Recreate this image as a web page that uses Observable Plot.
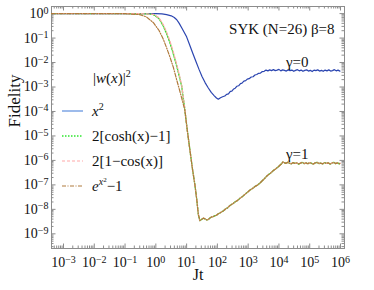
<!DOCTYPE html>
<html><head><meta charset="utf-8">
<script src="https://cdn.jsdelivr.net/npm/d3@7"></script>
<script src="https://cdn.jsdelivr.net/npm/@observablehq/plot@0.6"></script>
<style>
html,body{margin:0;padding:0;background:#fff;}
#chart{position:relative;width:374px;height:290px;}
</style>
</head><body><div id="chart"></div>
<script>
// ---- data (log10 values) ----
const gamma0LogJt = [-3.4,-2,-1,-0.3,0,0.2,0.35,0.5,0.6,0.68,0.76,0.84,0.92,1.0,1.1,1.2,1.3,1.4,1.5,1.6,1.7,1.8,1.9,1.97,2.03,2.1,2.17,2.24,2.3,2.36,2.42,2.47,2.53,2.58,2.63,2.69,2.75,2.8,2.86,2.92,2.97,3.03,3.1,3.16,3.22,3.28,3.34,3.4,3.46,3.52,3.58,3.64,3.7,3.76,3.82,3.88,3.94,4.0,4.06,4.12,4.18,4.24,4.3,4.36,4.42,4.48,4.54,4.6,4.66,4.72,4.78,4.84,4.9,4.96,5.02,5.08,5.14,5.2,5.26,5.32,5.38,5.44,5.5,5.56,5.62,5.68,5.74,5.8,5.86,5.92,5.98];
const gamma0LogF = [0,0,0,-0.002,-0.005,-0.015,-0.04,-0.09,-0.16,-0.25,-0.4,-0.58,-0.76,-0.95,-1.28,-1.62,-1.95,-2.27,-2.57,-2.82,-3.03,-3.22,-3.36,-3.45,-3.5,-3.44,-3.4,-3.37,-3.3,-3.28,-3.18,-3.17,-3.08,-3.05,-2.97,-2.95,-2.86,-2.84,-2.76,-2.74,-2.68,-2.66,-2.59,-2.58,-2.51,-2.49,-2.44,-2.43,-2.37,-2.36,-2.31,-2.34,-2.3,-2.33,-2.29,-2.33,-2.31,-2.28,-2.34,-2.3,-2.32,-2.35,-2.3,-2.33,-2.31,-2.36,-2.32,-2.29,-2.34,-2.31,-2.36,-2.32,-2.3,-2.35,-2.32,-2.37,-2.31,-2.33,-2.3,-2.35,-2.32,-2.36,-2.31,-2.34,-2.3,-2.35,-2.33,-2.29,-2.34,-2.31,-2.35];

// gamma = 1: early part differs between the four w(x) choices
const gamma1HeadLogJt = [-3.4,-2,-1,-0.52,-0.3,-0.08,0.1,0.24,0.35,0.46,0.57,0.68,0.76,0.84,0.94];
const coshHeadLogF = [0,0,-0.001,-0.005,-0.012,-0.04,-0.2,-0.5,-0.82,-1.2,-1.65,-2.15,-2.55,-2.97,-3.9];
const cosHeadLogF  = [0,0,-0.001,-0.004,-0.01,-0.03,-0.17,-0.45,-0.76,-1.13,-1.58,-2.08,-2.49,-2.92,-3.86];
const expHeadLogF  = [0,0,-0.004,-0.04,-0.14,-0.37,-0.68,-1.04,-1.4,-1.78,-2.2,-2.72,-3.08,-3.45,-3.93];
// shared later part
const gamma1TailLogJt = [1.02,1.11,1.19,1.27,1.33,1.38,1.43,1.48,1.54,1.6,1.65,1.7,1.76,1.81,1.86,1.92,1.97,2.03,2.08,2.14,2.2,2.27,2.34,2.41,2.49,2.57,2.65,2.73,2.81,2.9,2.98,3.06,3.14,3.22,3.3,3.38,3.45,3.52,3.59,3.66,3.72,3.77,3.82,3.87,3.93,3.98,4.04,4.09,4.13,4.17,4.22,4.28,4.34,4.4,4.46,4.52,4.58,4.64,4.7,4.76,4.82,4.88,4.94,5.0,5.06,5.12,5.18,5.24,5.3,5.36,5.42,5.48,5.54,5.6,5.66,5.72,5.78,5.84,5.9,5.96,5.99];
const gamma1TailLogF = [-4.75,-5.6,-6.35,-7.0,-7.6,-8.2,-8.46,-8.42,-8.36,-8.39,-8.43,-8.42,-8.35,-8.31,-8.3,-8.26,-8.24,-8.18,-8.15,-8.1,-8.06,-7.98,-7.93,-7.84,-7.78,-7.7,-7.64,-7.55,-7.48,-7.38,-7.3,-7.21,-7.15,-7.07,-7.01,-6.93,-6.84,-6.76,-6.66,-6.58,-6.53,-6.47,-6.41,-6.37,-6.31,-6.26,-6.19,-6.13,-6.06,-6.09,-6.12,-6.08,-6.11,-6.14,-6.09,-6.12,-6.1,-6.15,-6.11,-6.08,-6.13,-6.1,-6.14,-6.09,-6.12,-6.15,-6.1,-6.08,-6.13,-6.11,-6.14,-6.09,-6.12,-6.1,-6.15,-6.11,-6.08,-6.13,-6.1,-6.14,-6.11];

const xTickExponents = [-3,-2,-1,0,1,2,3,4,5,6];
const yTickExponents = [-9,-8,-7,-6,-5,-4,-3,-2,-1,0];
const legendLabels = ["x2","cosh","cos","exp"];

// ---- build ----
const toSeries = (lt, lf) => lt.map((t, i) => ({t: 10 ** t, f: 10 ** lf[i]}));
const gamma0 = toSeries(gamma0LogJt, gamma0LogF);
const t1 = gamma1HeadLogJt.concat(gamma1TailLogJt);
const sCosh = toSeries(t1, coshHeadLogF.concat(gamma1TailLogF));
const sCos = toSeries(t1, cosHeadLogF.concat(gamma1TailLogF));
const sExp = toSeries(t1, expHeadLogF.concat(gamma1TailLogF));

const W = 374, H = 290, mL = 51, mR = 30, mT = 6, mB = 42;
const PW = W - mL - mR, PH = H - mT - mB;
const xDom = [10 ** -3.39, 10 ** 6.13], yDom = [10 ** -9.6, 10 ** 0.29];
const majorX = xTickExponents.map(e => 10 ** e);
const majorY = yTickExponents.map(e => 10 ** e);
const minorX = [], minorY = [];
for (let k = -4; k <= 6; k++) for (let m = 2; m <= 9; m++) { const v = m * 10 ** k; if (v > xDom[0] && v < xDom[1]) minorX.push(v); }
for (let k = -10; k <= 0; k++) for (let m = 2; m <= 9; m++) { const v = m * 10 ** k; if (v > yDom[0] && v < yDom[1]) minorY.push(v); }

const serif = "'Liberation Serif','Times New Roman','DejaVu Serif',serif";
const frameCol = "#8c8c8c";
const fmt = d => "10^" + Math.round(Math.log10(d));

const svg = Plot.plot({
  width: W, height: H,
  marginLeft: mL, marginRight: mR, marginTop: mT, marginBottom: mB,
  style: {fontFamily: serif, fontSize: "14px", background: "#fff", color: "#111", overflow: "visible"},
  x: {type: "log", domain: xDom},
  y: {type: "log", domain: yDom},
  marks: [
    Plot.ruleX(majorX, {insetTop: PH - 4.5, stroke: frameCol}),
    Plot.ruleX(majorX, {insetBottom: PH - 4.5, stroke: frameCol}),
    Plot.ruleX(minorX, {insetTop: PH - 2.5, stroke: frameCol}),
    Plot.ruleX(minorX, {insetBottom: PH - 2.5, stroke: frameCol}),
    Plot.ruleY(majorY, {insetRight: PW - 4.5, stroke: frameCol}),
    Plot.ruleY(majorY, {insetLeft: PW - 4.5, stroke: frameCol}),
    Plot.ruleY(minorY, {insetRight: PW - 2.5, stroke: frameCol}),
    Plot.ruleY(minorY, {insetLeft: PW - 2.5, stroke: frameCol}),
    Plot.frame({stroke: frameCol}),
    Plot.axisX({ticks: majorX, tickSize: 0, tickPadding: 9, tickFormat: fmt, label: null, fontSize: 14}),
    Plot.axisY({ticks: majorY, tickSize: 0, tickPadding: 3, tickFormat: fmt, label: null, fontSize: 14}),
    Plot.line(gamma0, {x: "t", y: "f", stroke: "#2b45b0", strokeWidth: 1.2, clip: true}),
    Plot.line(sCosh, {x: "t", y: "f", stroke: "#2ee62e", strokeWidth: 1.4, strokeDasharray: "1.5,1.5", clip: true}),
    Plot.line(sCos, {x: "t", y: "f", stroke: "#ffa8a8", strokeWidth: 1.2, strokeDasharray: "3,2", clip: true}),
    Plot.line(sExp, {x: "t", y: "f", stroke: "#b07a3c", strokeWidth: 1.2, strokeDasharray: "4,1.5,1,1.5", clip: true}),
    Plot.text(["Fidelity"], {text: d => d, frameAnchor: "left", dx: -37, rotate: -90, fontSize: 17}),
    Plot.text(["Jt"], {text: d => d, frameAnchor: "bottom", dy: 31, fontSize: 16}),
    Plot.text(["SYK (N=26) β=8"], {text: d => d, frameAnchor: "top-right", dx: -10, dy: 17, textAnchor: "end", fontSize: 15}),
    Plot.text(["γ=0"], {text: d => d, frameAnchor: "top-right", dx: -36, dy: 50, fontSize: 15}),
    Plot.text(["γ=1"], {text: d => d, frameAnchor: "top-right", dx: -36, dy: 142, fontSize: 15})
  ]
});

// superscripts on tick labels
d3.select(svg).selectAll('g[aria-label="x-axis tick label"] text, g[aria-label="y-axis tick label"] text').each(function () {
  const s = this.textContent;
  if (!s.includes("^")) return;
  const [b, e] = s.split("^");
  const el = d3.select(this);
  el.text(b);
  el.append("tspan").attr("dy", "-0.45em").attr("font-size", "10px").text(e.replace("-", "−"));
});

// legend
const lg = d3.select(svg).append("g").attr("font-family", serif).attr("font-size", 15)
  .attr("fill", "#111").attr("text-anchor", "start");
const title = lg.append("text").attr("x", 93).attr("y", 83);
title.append("tspan").text("|");
title.append("tspan").attr("font-style", "italic").text("w");
title.append("tspan").text("(");
title.append("tspan").attr("font-style", "italic").text("x");
title.append("tspan").text(")|");
title.append("tspan").attr("dy", -6).attr("font-size", 10).text("2");

const ys = [111, 136, 161, 186];
const styles = [
  {stroke: "#5b8ede", dash: null, w: 1.2},
  {stroke: "#2ee62e", dash: "1.5,1.5", w: 1.4},
  {stroke: "#ffa8a8", dash: "3,2", w: 1.2},
  {stroke: "#b07a3c", dash: "4,1.5,1,1.5", w: 1.2}
];
legendLabels.forEach((k, i) => {
  const st = styles[i];
  const ln = lg.append("line").attr("x1", 62).attr("x2", 83).attr("y1", ys[i]).attr("y2", ys[i])
    .attr("stroke", st.stroke).attr("stroke-width", st.w);
  if (st.dash) ln.attr("stroke-dasharray", st.dash);
  const t = lg.append("text").attr("x", 92).attr("y", ys[i] + 5);
  if (k === "x2") {
    t.append("tspan").attr("font-style", "italic").text("x");
    t.append("tspan").attr("dy", -6).attr("font-size", 10).text("2");
  } else if (k === "cosh") {
    t.text("2[cosh(x)−1]");
  } else if (k === "cos") {
    t.text("2[1−cos(x)]");
  } else {
    t.append("tspan").attr("font-style", "italic").text("e");
    t.append("tspan").attr("dy", -6).attr("font-size", 10).attr("font-style", "italic").text("x");
    t.append("tspan").attr("dy", -3).attr("font-size", 7).text("2");
    t.append("tspan").attr("dy", 9).text("−1");
  }
});

document.getElementById("chart").appendChild(svg);
</script></body></html>
